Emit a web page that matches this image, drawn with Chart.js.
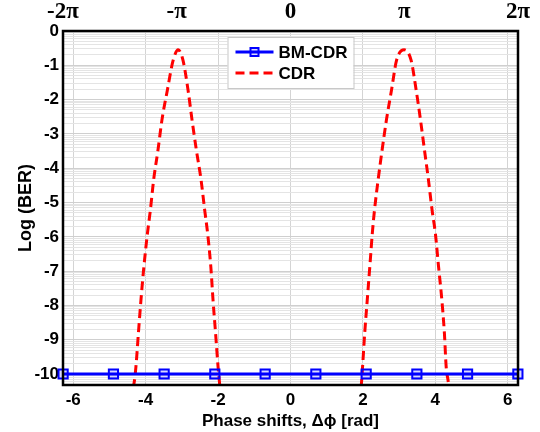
<!DOCTYPE html>
<html>
<head>
<meta charset="utf-8">
<script src="https://cdn.jsdelivr.net/npm/chart.js@4.4.1/dist/chart.umd.min.js"></script>
<style>
    html, body { margin: 0; padding: 0; background: #ffffff; }
    #wrap { width: 540px; height: 432px; }
</style>
</head>
<body>
<div id="wrap"><canvas id="berChart" width="540" height="432"></canvas></div>
<script>
// BM-CDR: flat at the floor
const bmX = [-6.28, -4.89, -3.49, -2.09, -0.70, 0.70, 2.09, 3.49, 4.89, 6.28];
const bmY = [-10, -10, -10, -10, -10, -10, -10, -10, -10, -10];

// CDR: two peaks around +/- pi (null splits the curves)
const cdrX = [-4.36, -4.32, -4.27, -4.20, -4.13, -4.05, -3.95, -3.87, -3.78, -3.66, -3.55, -3.40, -3.24, -3.10, -2.97, -2.83, -2.72, -2.60, -2.47, -2.37, -2.29, -2.20, -2.14, -2.07, -2.00, -1.96, -1.95,
              0,
              1.94, 1.96, 1.99, 2.05, 2.12, 2.19, 2.26, 2.32, 2.42, 2.53, 2.65, 2.79, 2.93, 3.14, 3.33, 3.47, 3.59, 3.70, 3.81, 3.91, 4.00, 4.09, 4.18, 4.25, 4.30, 4.36, 4.37];
const cdrY = [-10.4, -10.26, -9.80, -8.80, -7.84, -6.88, -5.89, -5.22, -4.34, -3.47, -2.59, -1.72, -0.85, -0.55, -0.85, -1.72, -2.59, -3.47, -4.34, -5.22, -5.89, -6.88, -7.84, -8.80, -9.80, -10.26, -10.4,
              null,
              -10.4, -10.26, -9.80, -8.80, -7.84, -6.88, -5.89, -5.22, -4.34, -3.47, -2.59, -1.72, -0.85, -0.55, -0.85, -1.72, -2.59, -3.47, -4.34, -5.22, -5.89, -6.88, -7.84, -8.80, -9.80, -10.26, -10.4];

const xTicks = [-6, -4, -2, 0, 2, 4, 6];
const yTicks = [-10, -9, -8, -7, -6, -5, -4, -3, -2, -1, 0];
const piTicks = [-2 * Math.PI, -Math.PI, 0, Math.PI, 2 * Math.PI];
const piLabels = ['-2π', '-π', '0', 'π', '2π'];

const sans = '"Liberation Sans", Arial, sans-serif';

function toPoints(xs, ys) {
    return xs.map(function(x, i) { return { x: x, y: ys[i] }; });
}

// log-style minor grid between the integer decades
function yGridTicks() {
    const out = [];
    yTicks.forEach(function(k) {
        out.push({ value: k });
        for (let m = 2; m <= 9; m++) {
            out.push({ value: k - 1 + Math.log10(m) });
        }
    });
    return out.filter(function(t) { return t.value >= -10.32; });
}

const framePlugin = {
    id: 'frame',
    afterDraw: function(chart) {
        const a = chart.chartArea;
        const ctx = chart.ctx;
        ctx.save();
        ctx.strokeStyle = '#000000';
        ctx.lineWidth = 2.5;
        ctx.strokeRect(a.left, a.top, a.right - a.left, a.bottom - a.top);
        ctx.restore();
    }
};

const legendBoxPlugin = {
    id: 'legendBox',
    afterDraw: function(chart) {
        const a = chart.chartArea;
        const ctx = chart.ctx;
        const w = 126, h = 51;
        const left = (a.left + a.right) / 2 - w / 2;
        const top = a.top + 6;
        ctx.save();
        ctx.fillStyle = '#ffffff';
        ctx.fillRect(left, top, w, h);
        ctx.strokeStyle = '#c8c8c8';
        ctx.lineWidth = 1;
        ctx.strokeRect(left + 0.5, top + 0.5, w, h);

        const ds = chart.data.datasets;
        const rows = [top + 15, top + 36];
        ctx.font = 'bold 17px ' + sans;
        ctx.textBaseline = 'middle';
        ds.forEach(function(d, i) {
            const y = rows[i];
            ctx.strokeStyle = d.borderColor;
            ctx.lineWidth = d.borderWidth;
            ctx.setLineDash(d.borderDash || []);
            ctx.beginPath();
            ctx.moveTo(left + 8, y);
            ctx.lineTo(left + 46, y);
            ctx.stroke();
            ctx.setLineDash([]);
            if (d.pointRadius > 0) {
                ctx.fillStyle = d.pointBackgroundColor;
                ctx.lineWidth = 2;
                ctx.fillRect(left + 23, y - 4, 8, 8);
                ctx.strokeRect(left + 23, y - 4, 8, 8);
            }
            ctx.fillStyle = '#000000';
            ctx.fillText(d.label, left + 51, y + 1);
        });
        ctx.restore();
    }
};

function renderBerChart() {
    const ctx = document.getElementById('berChart').getContext('2d');
    const chart = new Chart(ctx, {
        type: 'scatter',
        data: {
            datasets: [{
                label: 'BM-CDR',
                data: toPoints(bmX, bmY),
                showLine: true,
                borderColor: '#0000ff',
                borderWidth: 3,
                pointStyle: 'rect',
                pointRadius: 6.5,
                pointBorderWidth: 2,
                pointBorderColor: '#0000ff',
                pointBackgroundColor: 'rgba(0, 0, 255, 0.15)',
                clip: false,
                order: 1
            }, {
                label: 'CDR',
                data: toPoints(cdrX, cdrY),
                showLine: true,
                spanGaps: false,
                cubicInterpolationMode: 'monotone',
                borderColor: '#ff0000',
                borderWidth: 3,
                borderDash: [9, 5],
                pointRadius: 0,
                order: 2
            }]
        },
        options: {
            responsive: false,
            animation: false,
            layout: { padding: { top: 0, right: 22, bottom: 0, left: 0 } },
            scales: {
                x: {
                    type: 'linear',
                    position: 'bottom',
                    min: -2 * Math.PI,
                    max: 2 * Math.PI,
                    afterBuildTicks: function(axis) {
                        axis.ticks = xTicks.map(function(v) { return { value: v }; });
                    },
                    afterFit: function(axis) { axis.height = 47; },
                    grid: { color: '#d4d4d4', lineWidth: 1, drawTicks: false },
                    border: { display: false },
                    ticks: {
                        color: '#000000',
                        padding: 5,
                        font: { family: sans, size: 17, weight: 'bold' }
                    },
                    title: {
                        display: true,
                        text: 'Phase shifts, Δϕ [rad]',
                        color: '#000000',
                        padding: { top: 6, bottom: 0 },
                        font: { family: sans, size: 17, weight: 'bold' }
                    }
                },
                x2: {
                    type: 'linear',
                    position: 'top',
                    min: -2 * Math.PI,
                    max: 2 * Math.PI,
                    afterBuildTicks: function(axis) {
                        axis.ticks = piTicks.map(function(v) { return { value: v }; });
                    },
                    afterFit: function(axis) { axis.height = 31; },
                    grid: { display: false, drawTicks: false },
                    border: { display: false },
                    ticks: {
                        color: '#000000',
                        padding: 5,
                        font: { family: '"Liberation Serif", "Times New Roman", serif', size: 23, weight: 'bold' },
                        callback: function(value, index) { return piLabels[index]; }
                    }
                },
                y: {
                    type: 'linear',
                    min: -10.32,
                    max: 0,
                    afterBuildTicks: function(axis) { axis.ticks = yGridTicks(); },
                    afterFit: function(axis) { axis.width = 63; },
                    grid: {
                        drawTicks: false,
                        lineWidth: 1,
                        color: function(c) {
                            return Number.isInteger(c.tick.value) ? '#cfcfcf' : '#e4e4e4';
                        }
                    },
                    border: { display: false },
                    ticks: {
                        color: '#000000',
                        padding: 4,
                        autoSkip: false,
                        font: { family: sans, size: 17, weight: 'bold' },
                        callback: function(value) {
                            return Number.isInteger(value) ? String(value) : '';
                        }
                    },
                    title: {
                        display: true,
                        text: 'Log (BER)',
                        color: '#000000',
                        padding: { top: 15, bottom: 0 },
                        font: { family: sans, size: 18, weight: 'bold' }
                    }
                }
            },
            plugins: {
                legend: { display: false },
                tooltip: { enabled: false }
            }
        },
        plugins: [framePlugin, legendBoxPlugin]
    });
}

document.addEventListener('DOMContentLoaded', function() {
    renderBerChart();
});
</script>
</body>
</html>
